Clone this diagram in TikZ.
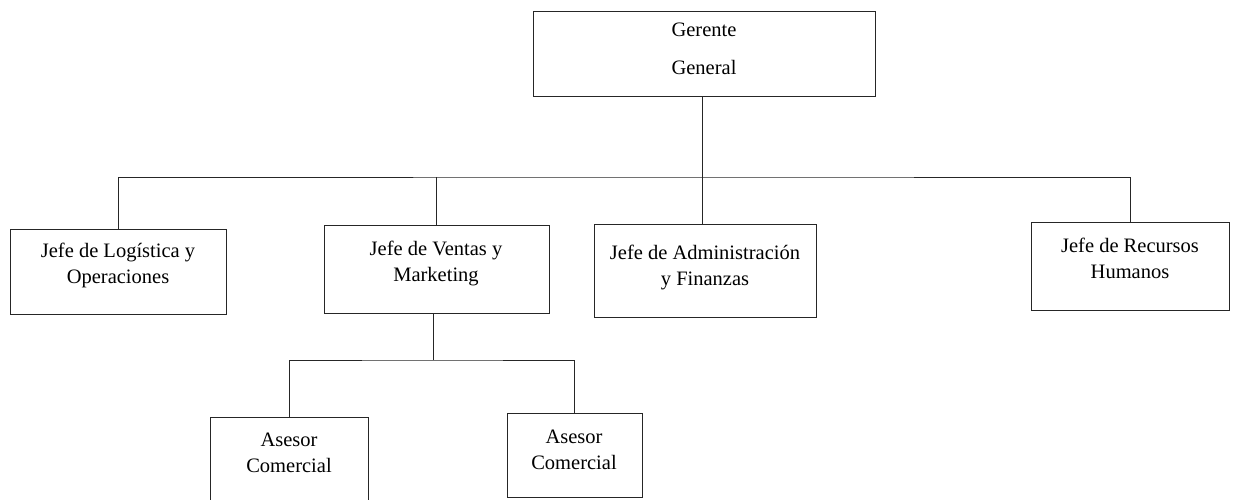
\documentclass[tikz,border=0pt]{standalone}
\usepackage{fontspec}
\setmainfont{Liberation Serif}
\begin{document}
\begin{tikzpicture}[x=1pt,y=-1pt,
  box/.style={draw=black!85, line width=0.7pt, inner sep=0pt},
  lbl/.style={align=center, inner sep=0pt, font=\fontsize{20.5}{26}\selectfont},
  conn/.style={draw=black!85, line width=0.9pt}]
\useasboundingbox (0,0) rectangle (1237,499);
% boxes
\node[box, minimum width=342pt, minimum height=85pt] (gg) at (704,53.5) {};
\node[box, minimum width=216pt, minimum height=85pt] (log) at (118,271.5) {};
\node[box, minimum width=225pt, minimum height=88pt] (ven) at (436.5,269) {};
\node[box, minimum width=222pt, minimum height=93pt] (adm) at (705,270.5) {};
\node[box, minimum width=198pt, minimum height=88pt] (rrhh) at (1130,266) {};
\node[box, minimum width=158pt, minimum height=88pt] (as1) at (289,461) {};
\node[box, minimum width=135pt, minimum height=84pt] (as2) at (574.5,455) {};
% texts
\node[lbl, font=\fontsize{20.5}{38}\selectfont] (ggt) at (704,49) {Gerente\\General};
\node[lbl] (logt) at (118,265) {Jefe de Logística y\\Operaciones};
\node[lbl] (vent) at (436,263) {Jefe de Ventas y\\Marketing};
\node[lbl] (admt) at (705,267) {Jefe de Administración\\y Finanzas};
\node[lbl] (rrhht) at (1130,258) {Jefe de Recursos\\Humanos};
\node[lbl] (as1t) at (289,453) {Asesor\\Comercial};
\node[lbl] (as2t) at (574,449.5) {Asesor\\Comercial};
% connector junctions
\coordinate (bus) at (702,177);
\coordinate (sub) at (433,360);
% connectors
\draw[conn] (gg.south -| bus) -- (bus);
\draw[conn] (log.north) |- (bus) -| (rrhh.north);
\draw[conn] (ven.north) -- (ven.north |- bus);
\draw[conn] (bus) -- (bus |- adm.north);
\draw[conn] (ven.south -| sub) -- (sub);
\draw[conn] (as1.north) |- (sub) -| (as2.north);
\end{tikzpicture}
\end{document}
